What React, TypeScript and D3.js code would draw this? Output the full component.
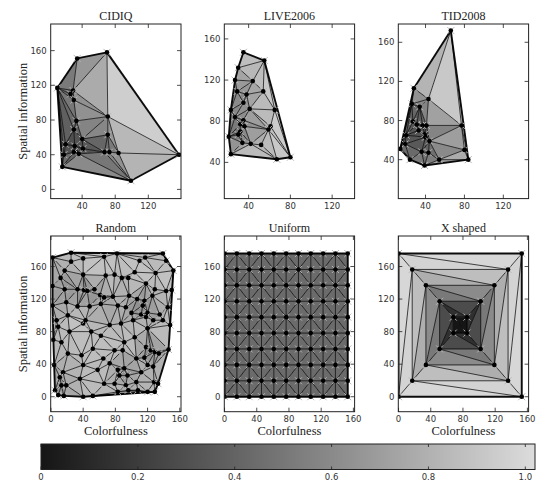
import React from 'react';
import * as d3 from 'd3';

type Pt = [number, number, number];
type Tri = [number, number, number];

// [colorfulness, spatial information, value]
const cidiqPoints: Pt[] = [
  [70, 158, 0.95], [34, 151, 0.6], [10, 117, 0.5], [29, 114, 0.45], [26, 110, 0.4],
  [30, 103, 0.55], [157, 40, 1.0], [99, 10, 0.85], [16, 26, 0.7], [71, 84, 0.9],
  [33, 79, 0.45], [30, 69, 0.35], [40, 58, 0.35], [71, 63, 0.5], [20, 52, 0.3],
  [31, 50, 0.25], [41, 47, 0.3], [30, 43, 0.25], [36, 41, 0.25], [18, 40, 0.35],
  [67, 43, 0.4], [73, 43, 0.45], [84, 42, 0.6],
];

const live2006Points: Pt[] = [
  [35, 147, 0.9], [55, 139, 0.95], [30, 132, 0.75], [27, 120, 0.65], [44, 119, 0.8],
  [29, 109, 0.6], [38, 106, 0.6], [54, 109, 0.85], [35, 98, 0.6], [23, 91, 0.6],
  [41, 92, 0.75], [65, 91, 0.95], [27, 84, 0.55], [35, 81, 0.55], [32, 77, 0.5],
  [36, 75, 0.55], [61, 75, 0.85], [59, 72, 0.8], [32, 70, 0.5], [21, 65, 0.5],
  [30, 67, 0.5], [34, 59, 0.6], [42, 58, 0.75], [52, 57, 0.8], [23, 48, 0.85],
  [67, 43, 0.95], [80, 45, 1.0],
];

const tid2008Points: Pt[] = [
  [66, 172, 1.0], [28, 113, 0.6], [43, 102, 0.85], [26, 97, 0.45], [34, 94, 0.45],
  [27, 79, 0.35], [31, 76, 0.35], [37, 75, 0.35], [41, 75, 0.4], [77, 75, 0.9],
  [33, 70, 0.3], [39, 66, 0.3], [20, 65, 0.35], [40, 63, 0.3], [44, 59, 0.4],
  [19, 56, 0.35], [14, 51, 0.45], [36, 48, 0.4], [43, 47, 0.4], [80, 50, 0.8],
  [24, 40, 0.55], [54, 40, 0.6], [84, 40, 0.9], [39, 34, 0.6],
];

const randomPoints: Pt[] = [
  [2, 171, 0.85], [25, 177, 0.9], [40, 170, 0.9], [66, 172, 0.9], [82, 176, 0.9],
  [110, 167, 0.85], [117, 171, 0.85], [139, 176, 0.9], [143, 167, 0.8], [152, 155, 0.9],
  [25, 166, 0.8], [17, 155, 0.75], [40, 150, 0.85], [12, 146, 0.7], [68, 149, 0.9],
  [79, 150, 0.85], [88, 146, 0.8], [96, 146, 0.85], [104, 153, 0.9], [130, 152, 0.9],
  [118, 139, 0.85], [2, 136, 0.7], [17, 132, 0.7], [33, 132, 0.6], [41, 131, 0.55],
  [45, 130, 0.55], [54, 132, 0.6], [61, 125, 0.65], [66, 122, 0.65], [77, 123, 0.8],
  [97, 124, 0.8], [107, 120, 0.6], [116, 118, 0.6], [126, 124, 0.75], [143, 130, 0.85],
  [129, 132, 0.8], [150, 131, 0.9], [2, 112, 0.7], [19, 116, 0.75], [33, 111, 0.8],
  [48, 111, 0.8], [62, 114, 0.7], [83, 112, 0.75], [93, 110, 0.75], [100, 103, 0.7],
  [112, 101, 0.6], [120, 103, 0.6], [135, 101, 0.75], [145, 110, 0.85], [114, 112, 0.6],
  [21, 100, 0.85], [7, 94, 0.8], [9, 86, 0.8], [23, 80, 0.9], [40, 90, 0.9],
  [43, 94, 0.85], [50, 80, 0.85], [73, 88, 0.8], [87, 90, 0.8], [102, 94, 0.8],
  [118, 98, 0.75], [127, 94, 0.75], [139, 94, 0.8], [120, 84, 0.85], [148, 88, 0.9],
  [3, 70, 0.85], [13, 67, 0.85], [62, 75, 0.85], [91, 67, 0.9], [104, 73, 0.85],
  [118, 61, 0.6], [146, 58, 0.8], [52, 59, 0.9], [21, 53, 0.8], [38, 51, 0.85],
  [65, 47, 0.85], [79, 57, 0.85], [89, 57, 0.8], [106, 47, 0.8], [116, 48, 0.7],
  [124, 57, 0.55], [129, 55, 0.55], [134, 53, 0.6], [4, 39, 0.8], [15, 30, 0.75],
  [11, 24, 0.7], [40, 39, 0.85], [58, 33, 0.85], [73, 41, 0.85], [83, 33, 0.65],
  [85, 26, 0.6], [91, 35, 0.6], [95, 26, 0.65], [112, 30, 0.8], [120, 39, 0.75],
  [127, 37, 0.8], [36, 22, 0.85], [5, 8, 0.65], [9, 2, 0.65], [16, 1, 0.7],
  [13, 14, 0.65], [19, 14, 0.7], [40, 0, 0.85], [52, 1, 0.85], [66, 16, 0.85],
  [79, 16, 0.85], [93, 14, 0.8], [106, 18, 0.8], [83, 6, 0.8], [96, 8, 0.75],
  [108, 8, 0.8], [120, 6, 0.85], [128, 18, 0.8], [133, 16, 0.8], [129, 6, 0.85],
];

const uniformXs = [0, 15.3, 30.6, 45.9, 61.2, 76.5, 91.8, 107.1, 122.4, 137.7, 153];
const uniformYs = [0, 19.6, 39.1, 58.7, 78.2, 97.8, 117.3, 136.9, 156.4, 176];
const uniformValue = 0.44;

// X shaped: offsets of each ring from the corners, outer ring first
const xRingDx = [0, 17, 34, 51, 68];
const xRingDy = [0, 19.6, 39.1, 58.7, 78.2];
const xRingValues = [1.02, 0.95, 0.7, 0.42, 0.0];
const xMaxX = 153;
const xMaxY = 176;

const colorbarTicks = [0, 0.2, 0.4, 0.6, 0.8, 1.0];
const colorbarLabels = ['0', '0.2', '0.4', '0.6', '0.8', '1.0'];
const colorMax = 1.02;

const color = d3.scaleLinear<string>()
  .domain([0, colorMax])
  .range(['#151515', '#dcdcdc'])
  .clamp(true);

type Mesh = { pts: Pt[]; tris: Tri[] };

function delaunayMesh(pts: Pt[]): Mesh {
  const d = d3.Delaunay.from(pts, p => p[0], p => p[1]);
  const tris: Tri[] = [];
  for (let i = 0; i < d.triangles.length; i += 3) {
    tris.push([d.triangles[i], d.triangles[i + 1], d.triangles[i + 2]]);
  }
  return { pts, tris };
}

function gridMesh(): Mesh {
  const pts: Pt[] = [];
  uniformYs.forEach(y => uniformXs.forEach(x => pts.push([x, y, uniformValue])));
  const n = uniformXs.length;
  const tris: Tri[] = [];
  for (let j = 0; j < uniformYs.length - 1; j++) {
    for (let i = 0; i < n - 1; i++) {
      const a = j * n + i, b = a + 1, c = a + n, e = c + 1;
      if ((i + j) % 2 === 0) { tris.push([a, b, e]); tris.push([a, e, c]); }
      else { tris.push([a, b, c]); tris.push([b, e, c]); }
    }
  }
  return { pts, tris };
}

function xMesh(): Mesh {
  const pts: Pt[] = [];
  xRingDx.forEach((dx, k) => {
    const dy = xRingDy[k], v = xRingValues[k];
    pts.push([dx, xMaxY - dy, v]);          // top left
    pts.push([xMaxX - dx, xMaxY - dy, v]);  // top right
    pts.push([xMaxX - dx, dy, v]);          // bottom right
    pts.push([dx, dy, v]);                  // bottom left
  });
  const tris: Tri[] = [];
  for (let k = 0; k < xRingDx.length - 1; k++) {
    for (let s = 0; s < 4; s++) {
      const a = 4 * k + s, b = 4 * k + (s + 1) % 4;
      const c = 4 * (k + 1) + (s + 1) % 4, e = 4 * (k + 1) + s;
      tris.push([a, b, c]);
      tris.push([a, c, e]);
    }
  }
  const m = 4 * (xRingDx.length - 1);
  tris.push([m, m + 1, m + 2]);
  tris.push([m, m + 2, m + 3]);
  return { pts, tris };
}

const W = 130.3;
const colLeft = [50.7, 224.3, 398.3];
const rowTop = [24, 236];
const rowH = [174.6, 175.7];

const panels = [
  { title: 'CIDIQ', mesh: delaunayMesh(cidiqPoints), col: 0, row: 0, xd: [2, 159.5], yd: [-10.6, 190.7] },
  { title: 'LIVE2006', mesh: delaunayMesh(live2006Points), col: 1, row: 0, xd: [16.7, 141.5], yd: [4.8, 174.5] },
  { title: 'TID2008', mesh: delaunayMesh(tid2008Points), col: 2, row: 0, xd: [12, 146], yd: [0.2, 178.7] },
  { title: 'Random', mesh: delaunayMesh(randomPoints), col: 0, row: 1, xd: [-0.3, 161.5], yd: [-18.4, 197.5] },
  { title: 'Uniform', mesh: gridMesh(), col: 1, row: 1, xd: [-0.3, 161.5], yd: [-18.4, 197.5] },
  { title: 'X shaped', mesh: xMesh(), col: 2, row: 1, xd: [-0.3, 161.5], yd: [-18.4, 197.5] },
];

const serif = "'Liberation Serif', serif";
const sans = "'DejaVu Sans', sans-serif";

function Panel({ p, idx }: { p: typeof panels[number]; idx: number }) {
  const left = colLeft[p.col];
  const top = rowTop[p.row];
  const H = rowH[p.row];
  const x = d3.scaleLinear().domain(p.xd).range([left, left + W]);
  const y = d3.scaleLinear().domain(p.yd).range([top + H, top]);
  const { pts, tris } = p.mesh;

  const edgeCount = new Map<string, number>();
  tris.forEach(t => {
    [[t[0], t[1]], [t[1], t[2]], [t[2], t[0]]].forEach(([a, b]) => {
      const key = a < b ? `${a}-${b}` : `${b}-${a}`;
      edgeCount.set(key, (edgeCount.get(key) || 0) + 1);
    });
  });
  const edges = Array.from(edgeCount, ([key, n]) => {
    const [a, b] = key.split('-').map(Number);
    return { a, b, hull: n === 1 };
  });

  const inDom = (d: number[], v: number) => v >= Math.min(d[0], d[1]) - 1e-6 && v <= Math.max(d[0], d[1]) + 1e-6;
  const xTicks = d3.range(0, 161, 40).filter(v => inDom(p.xd, v));
  const yTicks = d3.range(0, 161, 40).filter(v => inDom(p.yd, v));
  const clipId = `clip${idx}`;

  return (
    <g>
      <defs>
        <clipPath id={clipId}>
          <rect x={left} y={top} width={W} height={H} />
        </clipPath>
      </defs>
      <g clipPath={`url(#${clipId})`}>
        {tris.map((t, i) => {
          const v = (pts[t[0]][2] + pts[t[1]][2] + pts[t[2]][2]) / 3;
          const d = `M${t.map(k => `${x(pts[k][0])},${y(pts[k][1])}`).join('L')}Z`;
          return <path key={i} d={d} fill={color(v)} stroke={color(v)} strokeWidth={0.3} />;
        })}
        {edges.map((e, i) => (
          <line key={i}
            x1={x(pts[e.a][0])} y1={y(pts[e.a][1])}
            x2={x(pts[e.b][0])} y2={y(pts[e.b][1])}
            stroke="#000" strokeOpacity={e.hull ? 0.95 : 0.8}
            strokeWidth={e.hull ? 1.9 : 0.9} />
        ))}
        {pts.map((q, i) => {
          const cx = x(q[0]), cy = y(q[1]);
          return (
            <g key={i}>
              <path d={`M${cx - 3.5},${cy - 3.5}L${cx + 3.5},${cy + 3.5}M${cx - 3.5},${cy + 3.5}L${cx + 3.5},${cy - 3.5}`}
                stroke="#b8b8b8" strokeWidth={1} />
              <circle cx={cx} cy={cy} r={2.3} fill="#000" />
            </g>
          );
        })}
      </g>
      <rect x={left} y={top} width={W} height={H} fill="none" stroke="#222" strokeWidth={1} />
      {xTicks.map(v => (
        <g key={`x${v}`}>
          <line x1={x(v)} x2={x(v)} y1={top + H} y2={top + H - 4} stroke="#222" strokeWidth={0.8} />
          <line x1={x(v)} x2={x(v)} y1={top} y2={top + 4} stroke="#222" strokeWidth={0.8} />
          <text x={x(v)} y={top + H + 10} textAnchor="middle" fontFamily={sans} fontSize={8.5} fill="#333">{v}</text>
        </g>
      ))}
      {yTicks.map(v => (
        <g key={`y${v}`}>
          <line x1={left} x2={left + 4} y1={y(v)} y2={y(v)} stroke="#222" strokeWidth={0.8} />
          <line x1={left + W} x2={left + W - 4} y1={y(v)} y2={y(v)} stroke="#222" strokeWidth={0.8} />
          <text x={left - 4} y={y(v) + 3} textAnchor="end" fontFamily={sans} fontSize={8.5} fill="#333">{v}</text>
        </g>
      ))}
      <text x={left + W / 2} y={top - 4} textAnchor="middle" fontFamily={serif} fontSize={12} fill="#222">{p.title}</text>
      {p.row === 1 && (
        <text x={left + W / 2} y={435} textAnchor="middle" fontFamily={serif} fontSize={12.5} fill="#222">Colorfulness</text>
      )}
      {p.col === 0 && (
        <text transform={`translate(26.5,${top + H / 2}) rotate(-90)`} textAnchor="middle"
          fontFamily={serif} fontSize={12.5} fill="#222">Spatial information</text>
      )}
    </g>
  );
}

function Colorbar() {
  const x0 = 41, x1 = 535, y0 = 444, y1 = 469.5;
  const cx = d3.scaleLinear().domain([0, colorMax]).range([x0, x1]);
  const stops = d3.range(0, 11).map(i => i / 10);
  return (
    <g>
      <defs>
        <linearGradient id="cbar" x1="0" x2="1" y1="0" y2="0">
          {stops.map(s => <stop key={s} offset={s} stopColor={color(s * colorMax)} />)}
        </linearGradient>
      </defs>
      <rect x={x0} y={y0} width={x1 - x0} height={y1 - y0} fill="url(#cbar)" stroke="#222" strokeWidth={1} />
      {colorbarTicks.map((t, i) => (
        <g key={t}>
          <line x1={cx(t)} x2={cx(t)} y1={y0} y2={y0 + 3} stroke="#222" strokeWidth={0.8} />
          <line x1={cx(t)} x2={cx(t)} y1={y1} y2={y1 - 3} stroke="#222" strokeWidth={0.8} />
          <text x={cx(t)} y={479.5} textAnchor="middle" fontFamily={sans} fontSize={8.5} fill="#333">{colorbarLabels[i]}</text>
        </g>
      ))}
    </g>
  );
}

export default function App() {
  return (
    <svg width={539} height={480} style={{ position: 'absolute', left: 0, top: 0, background: '#fff' }}>
      {panels.map((p, i) => <Panel key={p.title} p={p} idx={i} />)}
      <Colorbar />
    </svg>
  );
}
